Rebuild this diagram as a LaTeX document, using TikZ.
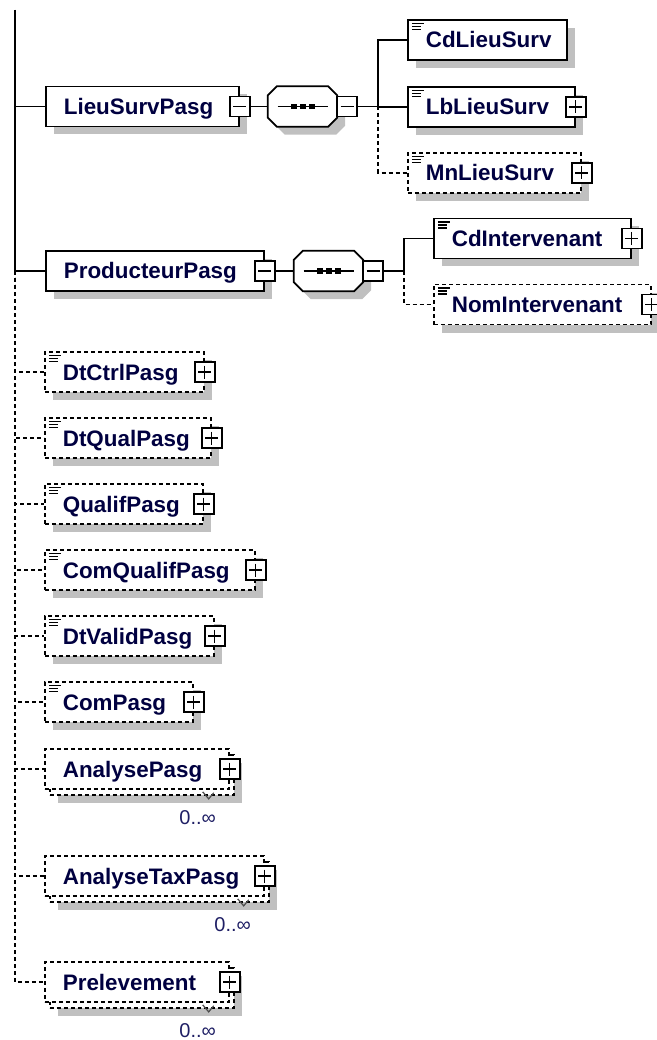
\documentclass[tikz,border=0pt]{standalone}
\usepackage{fontspec}
\setmainfont{Liberation Sans}
\usetikzlibrary{shadows}
\definecolor{xsdtext}{RGB}{0,0,64}
\definecolor{xsdcard}{RGB}{30,30,100}
\definecolor{xsdshadow}{RGB}{192,192,192}

% outline of a sequence compositor, cut corners of 9pt
\newcommand{\seqoutline}[1]{([xshift=9pt]#1.north west) -- ([xshift=-9pt]#1.north east)
    -- ([yshift=-9pt]#1.north east) -- ([yshift=9pt]#1.south east)
    -- ([xshift=-9pt]#1.south east) -- ([xshift=9pt]#1.south west)
    -- ([yshift=9pt]#1.south west) -- ([yshift=-9pt]#1.north west) -- cycle}

\begin{document}
\begin{tikzpicture}[x=1pt, y=-1pt,
    conn/.style = {
        line width=1.7pt
    },
    optconn/.style = {
        line width=1.7pt,
        dash pattern=on 4pt off 3pt
    },
    xsd/.style = {
        draw, fill=white,
        line width=1.7pt,
        anchor=west,
        minimum height=40pt,
        inner xsep=18pt, inner ysep=0pt,
        text height=16pt, text depth=0pt,
        align=left,
        text=xsdtext,
        font=\fontsize{22.4}{26}\selectfont\bfseries
    },
    boxw/.code = {
        \pgfmathsetlengthmacro\boxtw{#1-36}
        \tikzset{minimum width=#1pt, text width=\boxtw}
    },
    opt/.style = {
        dash pattern=on 4pt off 3pt
    },
    shadowed/.style = {
        drop shadow={shadow xshift=8pt, shadow yshift=-8pt,
            fill=xsdshadow, opacity=1}
    },
    simple/.style = {
        path picture={
            \draw[solid, black, line width=1.2pt]
                ([shift={(4,3.5)}]path picture bounding box.north west) -- +(12,0)
                ([shift={(4,6.5)}]path picture bounding box.north west) -- +(9,0)
                ([shift={(4,9.5)}]path picture bounding box.north west) -- +(9,0);
        }
    },
    xbox/.style = {
        draw, fill=white, solid,
        line width=1.7pt,
        minimum size=20pt, inner sep=0pt
    },
    collapsebox/.style = {
        xbox,
        path picture={
            \draw[black, line width=1.5pt] ([xshift=-6.5pt]path picture bounding box.center) -- +(13,0);
        }
    },
    expandbox/.style = {
        xbox,
        path picture={
            \draw[black, line width=1.5pt] ([xshift=-6.5pt]path picture bounding box.center) -- +(13,0)
                ([yshift=6.5pt]path picture bounding box.center) -- +(0,13);
        }
    },
    seqframe/.style = {
        rectangle, inner sep=0pt,
        minimum width=69pt, minimum height=40pt
    },
    seqline/.style = {
        draw, fill=white,
        line width=1.7pt
    },
    card/.style = {
        text=xsdcard, inner sep=0pt,
        font=\fontsize{20}{22}\selectfont
    },
    cardtick/.style = {
        line width=1.2pt, black!70
    }
]
    \useasboundingbox (0,0) rectangle (656,1040);

    % LieuSurvPasg
    \node[xsd, shadowed, boxw=193] (lsp) at (45,106.5) {LieuSurvPasg};
    \node[collapsebox] (lsp-x) at (lsp.east) {};
    \node[xsd, shadowed, simple, boxw=159] (cdls) at (407,40) {CdLieuSurv};
    \node[xsd, shadowed, simple, boxw=167] (lbls) at (407,107) {LbLieuSurv};
    \node[expandbox] (lbls-x) at (lbls.east) {};
    \node[xsd, opt, shadowed, simple, boxw=173] (mnls) at (407,173) {MnLieuSurv};
    \node[expandbox] (mnls-x) at (mnls.east) {};

    % ProducteurPasg
    \node[xsd, shadowed, boxw=218] (pp) at (45,271) {ProducteurPasg};
    \node[collapsebox] (pp-x) at (pp.east) {};
    \node[xsd, shadowed, simple, boxw=197] (cdint) at (433,238.5) {CdIntervenant};
    \node[expandbox] (cdint-x) at (cdint.east) {};
    \node[xsd, opt, shadowed, simple, boxw=217] (nomint) at (433,304.5) {NomIntervenant};
    \node[expandbox] (nomint-x) at (nomint.east) {};

    % sequence compositors
    \node[seqframe] (lsseq) at (302.5,106.5) {};
    \node[seqframe] (ppseq) at (328.5,271) {};
    \foreach \s in {lsseq, ppseq} {
        \fill[xsdshadow, transform canvas={shift={(8pt,-8pt)}}] \seqoutline{\s};
        \path[seqline] \seqoutline{\s};
        \draw[conn] (\s.center) +(-25,0) -- +(25,0);
        \foreach \dx in {-9,0,9}
            \fill[black] ([xshift=\dx pt]\s.center) +(-3,-2.75) rectangle +(3,2.75);
        \node[collapsebox] (\s-x) at ([xshift=10pt]\s.east) {};
    }
    \coordinate (lsb) at ([xshift=20pt]lsseq-x.east);
    \coordinate (ppb) at ([xshift=20pt]ppseq-x.east);

    \draw[conn] (lsp-x) -- (lsseq);
    \draw[conn] (lsseq-x) -- (lsb);
    \draw[conn] (cdls.west) -| (lsb);
    \draw[conn] (lsb) |- (lbls.west);
    \draw[optconn] (lsb) |- (mnls.west);

    \draw[conn] (pp-x) -- (ppseq);
    \draw[conn] (ppseq-x) -- (ppb);
    \draw[conn] (cdint.west) -| (ppb);
    \draw[optconn] (ppb) |- (nomint.west);

    % optional simple elements
    \foreach \n/\t/\y/\w in {dc/DtCtrlPasg/372/159, dq/DtQualPasg/438/166,
            qp/QualifPasg/504/158, cq/ComQualifPasg/570/210,
            dv/DtValidPasg/636/169, cp/ComPasg/702/148} {
        \node[xsd, opt, shadowed, simple, boxw=\w] (\n) at (44,\y) {\t};
        \node[expandbox] (\n-x) at (\n.east) {};
    }

    % repeated elements 0..oo
    \foreach \n/\t/\y/\w in {ap/AnalysePasg/769/184, atp/AnalyseTaxPasg/876/219,
            pr/Prelevement/982/184} {
        \node[xsd, opt, shadowed, boxw=\w] (\n-bk) at (49,\y+6) {};
        \node[xsd, opt, boxw=\w] (\n) at (44,\y) {\t};
        \node[expandbox] (\n-x) at (\n.east) {};
        \node[card] (\n-c) at ([shift={(-37,22)}]\n-bk.south east) {0..∞};
        \draw[cardtick] ([shift={(-32,-4)}]\n-bk.south east) -- +(6,7) -- +(11,1);
    }

    % root line
    \coordinate (root) at (15,10);
    \draw[conn] (root) |- (lsp.west);
    \draw[conn] (root) |- (pp.west);
    \foreach \n in {dc, dq, qp, cq, dv, cp, ap, atp, pr}
        \draw[optconn] (root |- pp.west) |- (\n.west);

\end{tikzpicture}
\end{document}
